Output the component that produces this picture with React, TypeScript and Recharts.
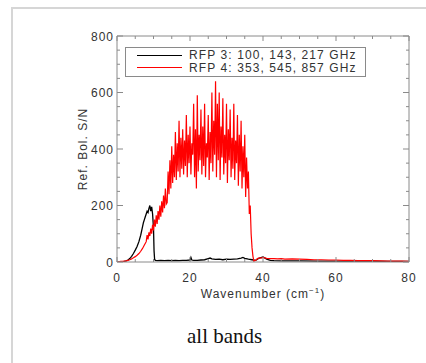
import { LineChart, Line, XAxis, YAxis, Legend } from 'recharts'

// Reference bolometer S/N against wavenumber for the two RFP groups
const rfp3Wave = [
  0, 0.5, 1, 1.5, 2, 2.5, 3, 3.5, 4, 4.5, 5, 5.5, 6, 6.5, 7,
  7.25, 7.5, 7.75, 8, 8.25, 8.5, 8.75, 9, 9.25, 9.5, 9.75, 10,
  10.15, 10.3, 10.5,
  11, 12, 13, 14, 15, 16, 17, 18, 19, 20,
  20.25, 20.5,
  21, 22, 23, 24, 25, 25.5,
  26, 27, 28, 29, 30, 31, 32, 33, 34, 34.5,
  35, 36, 37, 38, 39, 40, 41, 42, 43,
  45, 50, 55, 60, 65, 70, 75, 80,
]
const rfp3SN = [
  0, 0, 1, 1, 2, 4, 7, 12, 20, 30, 42, 55, 72, 95, 125,
  140, 150, 160, 170, 180, 175, 190, 200, 180, 195, 170, 120,
  40, 10, 6,
  5, 6, 5, 6, 5, 6, 5, 6, 6, 7,
  16, 7,
  6, 6, 7, 8, 12, 14,
  11, 9, 10, 8, 10, 9, 10, 11, 14, 16,
  13, 10, 8, 6, 14, 18, 10, 6, 5,
  4, 4, 3, 3, 3, 3, 2, 2,
]

const rfp4Wave = [
  0, 0.5, 1, 1.5, 2, 2.5, 3, 3.5, 4, 4.5, 5, 5.5, 6, 6.5, 7, 7.5, 8,
  8.25, 8.5, 8.75, 9, 9.25, 9.5, 9.75, 10, 10.25, 10.5, 10.75, 11,
  11.25, 11.5, 11.75, 12, 12.25, 12.5, 12.75, 13, 13.25, 13.5,
  13.75, 14, 14.25, 14.5, 14.75, 15, 15.25, 15.5, 15.75, 16,
  16.25, 16.5, 16.75, 17, 17.25, 17.5, 17.75, 18, 18.25, 18.5, 18.75, 19,
  19.25, 19.5, 19.75, 20, 20.25, 20.5, 20.75, 21, 21.25, 21.5, 21.75, 22,
  22.25, 22.5, 22.75, 23, 23.25, 23.5, 23.75, 24, 24.25, 24.5, 24.75, 25,
  25.25, 25.5, 25.75, 26, 26.25, 26.5, 26.75, 27, 27.25, 27.5, 27.75, 28,
  28.25, 28.5, 28.75, 29, 29.25, 29.5, 29.75, 30, 30.25, 30.5, 30.75, 31,
  31.25, 31.5, 31.75, 32, 32.25, 32.5, 32.75, 33, 33.25, 33.5, 33.75, 34,
  34.25, 34.5, 34.75, 35, 35.25, 35.5, 35.75, 36, 36.25, 36.5, 36.75, 37,
  37.25, 37.5,
  38, 38.5, 39, 39.5, 40, 41, 42, 43, 44, 45, 46, 48, 50, 52, 54, 56,
  58, 60, 62, 64, 66, 68, 70, 72, 74, 76, 78, 80,
]
const rfp4SN = [
  1, 1, 2, 2, 3, 4, 6, 8, 11, 15, 19, 24, 30, 38, 48, 60, 72,
  95, 80, 105, 92, 118, 100, 132, 112, 150, 125, 165, 135,
  180, 150, 200, 160, 215, 175, 235, 190, 260, 205,
  210, 320, 240, 360, 260, 410, 280, 380, 300, 460,
  290, 420, 320, 500, 300, 440, 330, 470, 310, 430, 340, 520,
  300, 450, 350, 480, 310, 420, 380, 560, 300, 470, 260, 590,
  320, 450, 360, 540, 310, 480, 340, 560, 300, 420, 370, 520,
  290, 460, 350, 600, 320, 500, 380, 640, 300, 560, 360, 600,
  290, 480, 370, 580, 310, 450, 350, 560, 280, 470, 360, 540,
  300, 440, 330, 560, 290, 430, 350, 520, 270, 450, 320, 500,
  260, 410, 300, 450, 230, 370, 260, 320, 170, 200, 100, 50,
  20, 3,
  6, 12, 15, 14, 16, 13, 12, 12, 11, 12, 10, 11, 10, 9, 8, 8,
  7, 7, 6, 6, 5, 5, 5, 4, 3, 3, 3, 2,
]

const xTicks = [0, 5, 10, 15, 20, 25, 30, 35, 40, 45, 50, 55, 60, 65, 70, 75, 80]
const xLabelTicks = [0, 20, 40, 60, 80]
const yTicks = [0, 50, 100, 150, 200, 250, 300, 350, 400, 450, 500, 550, 600, 650, 700, 750, 800]
const yLabelTicks = [0, 200, 400, 600, 800]

const rfp3Data = rfp3Wave.map((wn, i) => ({ wn, sn: rfp3SN[i] }))
const rfp4Data = rfp4Wave.map((wn, i) => ({ wn, sn: rfp4SN[i] }))

const FONT = '"Liberation Sans", Arial, Helvetica, sans-serif'
const AXIS = '#8a8a8a'
const TEXT = '#333'

const textProps = { fill: TEXT, fontSize: 12, fontFamily: FONT, letterSpacing: 1 }

// IDL-style ticks: pointing into the plot, long for labelled values
function BottomTick(props: any) {
  const { x, y, payload } = props
  const major = xLabelTicks.includes(payload.value)
  return (
    <g>
      <line x1={x} x2={x} y1={y} y2={y - (major ? 5 : 3)} stroke={AXIS} />
      {major && (
        <text x={x} y={y + 20} textAnchor="middle" {...textProps}>
          {payload.value}
        </text>
      )}
    </g>
  )
}

function TopTick(props: any) {
  const { x, y, payload } = props
  const major = xLabelTicks.includes(payload.value)
  return <line x1={x} x2={x} y1={y} y2={y + (major ? 5 : 3)} stroke={AXIS} />
}

function LeftTick(props: any) {
  const { x, y, payload } = props
  const major = yLabelTicks.includes(payload.value)
  return (
    <g>
      <line x1={x} x2={x + (major ? 6 : 3)} y1={y} y2={y} stroke={AXIS} />
      {major && (
        <text x={x - 3} y={y + 4.5} textAnchor="end" {...textProps}>
          {payload.value}
        </text>
      )}
    </g>
  )
}

function RightTick(props: any) {
  const { x, y, payload } = props
  const major = yLabelTicks.includes(payload.value)
  return <line x1={x} x2={x - (major ? 6 : 3)} y1={y} y2={y} stroke={AXIS} />
}

function XTitle(props: any) {
  const vb = props.viewBox || props
  return (
    <text x={vb.x + vb.width / 2} y={vb.y + 36} textAnchor="middle" {...textProps}>
      Wavenumber (cm
      <tspan dy={-5} fontSize={8}>−1</tspan>
      <tspan dy={5}>)</tspan>
    </text>
  )
}

function YTitle(props: any) {
  const vb = props.viewBox || props
  const cx = vb.x + vb.width - 30
  const cy = vb.y + vb.height / 2
  return (
    <text x={cx} y={cy} textAnchor="middle" transform={`rotate(-90, ${cx}, ${cy})`} {...textProps}>
      Ref. Bol. S/N
    </text>
  )
}

function LegendBox({ payload }: any) {
  return (
    <div
      style={{
        position: 'relative',
        width: 239,
        height: 28,
        border: `1px solid ${AXIS}`,
        background: '#fff',
        fontFamily: FONT,
        fontSize: 12,
        color: TEXT,
        letterSpacing: 1.1,
      }}
    >
      {(payload || []).map((entry: any, i: number) => (
        <div
          key={entry.value}
          style={{
            position: 'absolute',
            left: 0,
            top: 1 + i * 12.5,
            height: 12.5,
            display: 'flex',
            alignItems: 'center',
          }}
        >
          <span style={{ marginLeft: 11, width: 45, height: 0, borderTop: `1px solid ${entry.color}` }} />
          <span style={{ marginLeft: 7, lineHeight: '12px', whiteSpace: 'nowrap' }}>{entry.value}</span>
        </div>
      ))}
    </div>
  )
}

export default function App() {
  return (
    <div style={{ position: 'absolute', left: 0, top: 0, width: 426, height: 363, background: '#fff', overflow: 'hidden' }}>
      <div
        style={{
          position: 'absolute',
          left: 11,
          top: 7,
          width: 600,
          height: 600,
          borderLeft: '2px solid #d6d6d6',
          borderTop: '2px solid #d6d6d6',
        }}
      />
      <div style={{ position: 'absolute', left: 0, top: 0 }}>
        <LineChart width={426} height={340} margin={{ top: 35, right: 16, bottom: 14, left: 48 }}>
          <XAxis
            type="number"
            dataKey="wn"
            domain={[0, 80]}
            ticks={xTicks}
            interval={0}
            tickSize={0}
            tickMargin={0}
            tickLine={false}
            axisLine={{ stroke: AXIS }}
            height={64}
            tick={BottomTick}
            label={XTitle}
            allowDataOverflow
          />
          <XAxis
            xAxisId="top"
            orientation="top"
            type="number"
            dataKey="wn"
            domain={[0, 80]}
            ticks={xTicks}
            interval={0}
            tickSize={0}
            tickMargin={0}
            tickLine={false}
            axisLine={{ stroke: AXIS }}
            height={1}
            tick={TopTick}
            allowDataOverflow
          />
          <YAxis
            type="number"
            domain={[0, 800]}
            ticks={yTicks}
            interval={0}
            tickSize={0}
            tickMargin={0}
            tickLine={false}
            axisLine={{ stroke: AXIS }}
            width={69}
            tick={LeftTick}
            label={YTitle}
            allowDataOverflow
          />
          <YAxis
            yAxisId="right"
            orientation="right"
            type="number"
            domain={[0, 800]}
            ticks={yTicks}
            interval={0}
            tickSize={0}
            tickMargin={0}
            tickLine={false}
            axisLine={{ stroke: AXIS }}
            width={1}
            tick={RightTick}
            allowDataOverflow
          />
          <Legend
            layout="vertical"
            align="center"
            verticalAlign="middle"
            content={LegendBox}
            wrapperStyle={{ left: 125, top: 47, width: 241, height: 30 }}
          />
          <Line
            data={rfp3Data}
            dataKey="sn"
            name="RFP 3: 100, 143, 217 GHz"
            stroke="#000"
            strokeWidth={1.3}
            dot={false}
            type="linear"
            isAnimationActive={false}
          />
          <Line
            data={rfp4Data}
            dataKey="sn"
            name="RFP 4: 353, 545, 857 GHz"
            stroke="#ff0000"
            strokeWidth={1.2}
            dot={false}
            type="linear"
            isAnimationActive={false}
          />
        </LineChart>
      </div>
      <div
        style={{
          position: 'absolute',
          left: 187,
          top: 326,
          fontFamily: '"Liberation Serif", "Times New Roman", serif',
          fontSize: 21,
          lineHeight: '21px',
          color: '#111',
          whiteSpace: 'nowrap',
        }}
      >
        all bands
      </div>
    </div>
  )
}
